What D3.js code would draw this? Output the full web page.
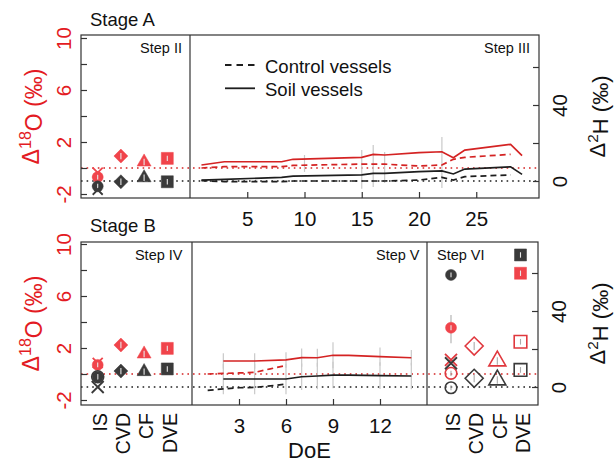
<!DOCTYPE html>
<html><head><meta charset="utf-8">
<script src="https://cdn.jsdelivr.net/npm/d3@7"></script>
<style>body{margin:0;background:#fff}svg{display:block;font-family:"Liberation Sans",Arial,sans-serif}</style>
</head><body><svg id="c" width="614" height="462"></svg>
<script>
// ---------- data ----------
const categories = ["IS","CVD","CF","DVE"];
const shapesByCat = ["circle","diamond","triangle","square"];
const doeTicksA = [5,10,15,20,25];
const doeTicksB = [3,6,9,12];
const o18Ticks = [-2,0,2,4,6,8,10];
const o18Labels = [-2,2,6,10];
const h2Ticks = [0,20,40,60];
const h2Labels = [0,40];

// Stage A, Step III (time series)
const daysSoilA = [1,3,8,9,15,16,17,20,22,23,24,28,29];
const soilO18A  = [0.23,0.48,0.48,0.67,0.82,1.05,1.0,1.18,1.25,0.79,1.38,1.82,0.95];
const soilH2A   = [0.5,0.9,1.9,2.6,3.2,4.0,4.0,4.9,5.3,3.7,6.3,7.5,3.5];
const daysCtrlA = [1,3,8,9,15,16,17,20,22,23,24,28];
const ctrlO18A  = [0.0,0.1,0.1,0.2,0.3,0.3,0.3,0.15,0.23,0.67,0.82,1.05];
const ctrlH2A   = [0.2,-0.3,-0.3,0,0,0,0,0.5,1.9,0.5,2.3,3.2];
const errDaysA  = [10,15,16,17,22];
const errLoA    = [-0.3,-1.6,-1.46,-1.15,-1.54];
const errHiA    = [1.0,1.38,1.77,1.23,2.38];

// Stage B, Step V (time series)
const daysSoilB = [2,4,6,7,8,9,10,12,14];
const soilO18B  = [1.0,1.0,1.08,1.26,1.25,1.44,1.44,1.33,1.25];
const soilH2B   = [4.2,4.2,4.2,5.4,5.8,6.3,6.3,6.0,5.8];
const daysCtrlB = [1,2,3,4,5,6];
const ctrlO18B  = [0.0,0.05,0.08,0.12,0.4,0.65];
const ctrlH2B   = [-1.8,-1.0,-0.4,-0.2,0.6,1.5];
const errDaysB  = [2,4,6,7,8,9,12,14];
const errO18B   = [0.6,0.6,0.6,0.7,0.7,1.0,0.7,0.6];
const errH2B    = [8,8,8,7,7,7,7,7];

// Step II markers (filled shapes + IS cross)
const stepII_O18 = [-0.7,0.92,0.46,0.74];
const stepII_H2  = [-2.8,-0.4,1.7,-0.4];
const stepII_xO18 = [-0.35];
const stepII_xH2  = [-4.6];
// Step IV markers
const stepIV_O18 = [0.7,2.23,1.54,1.97];
const stepIV_H2  = [5.4,8.4,8.1,9.5];
const stepIV_xO18 = [0.85];
const stepIV_xH2  = [0.0];
// Step VI markers
const stepVI_fillO18 = [3.56,null,null,7.75];
const stepVI_fillH2  = [59,null,null,69.5];
const stepVI_openO18 = [0.05,2.15,1.0,2.48];
const stepVI_openH2  = [-0.4,4.6,3.7,9.0];
const stepVI_xO18 = [1.08];
const stepVI_xH2  = [12.5];
const stepVI_errO18 = [[2.36,4.54],null,null,null];

// ---------- styling ----------
const RED_TXT="#e31b23", RED_MK="#f0444b", RED_LN="#d42323", BLK_MK="#3a3a3a", BLK_LN="#1e1e1e", BOX="#333", GRAY="#c9c9c9";
const svg = d3.select("#c");

// scales
const xA = d3.scaleLinear().domain([0,30.48]).range([190,539]);
const xB = d3.scaleLinear().domain([0,15]).range([192,427]);
const oA = d3.scaleLinear().domain([-2,10]).range([194,38]);
const hA = d3.scaleLinear().domain([0,40]).range([181,105]);
const oB = d3.scaleLinear().domain([-2,10]).range([400,244]);
const hB = d3.scaleLinear().domain([0,40]).range([387,311]);
const cL = d3.scalePoint().domain(categories).range([97.7,167.3]);
const cR = d3.scalePoint().domain(categories).range([451,520.5]);

const P = {A:{x0:81,x1:539,y0:35,y1:198,div:[190]}, B:{x0:81,x1:538,y0:242,y1:405,div:[192,427]}};

// reference dotted lines
function refLines(p, oS, hS){
  svg.append("line").attr("x1",p.x0).attr("x2",p.x1).attr("y1",oS(0)).attr("y2",oS(0))
    .attr("stroke",RED_LN).attr("stroke-width",1.6).attr("stroke-dasharray","1.6,4");
  svg.append("line").attr("x1",p.x0).attr("x2",p.x1).attr("y1",hS(0)).attr("y2",hS(0))
    .attr("stroke",BLK_LN).attr("stroke-width",1.6).attr("stroke-dasharray","1.6,4");
}
refLines(P.A,oA,hA); refLines(P.B,oB,hB);

// error bars
errDaysA.forEach((d,i)=>{
  svg.append("line").attr("x1",xA(d)).attr("x2",xA(d)).attr("y1",oA(errLoA[i])).attr("y2",oA(errHiA[i]))
    .attr("stroke",GRAY).attr("stroke-width",1.2);
});
errDaysB.forEach((d,i)=>{
  const si = daysSoilB.indexOf(d);
  svg.append("line").attr("x1",xB(d)).attr("x2",xB(d))
    .attr("y1",oB(soilO18B[si]+errO18B[i])).attr("y2",oB(soilO18B[si]-errO18B[i]))
    .attr("stroke",GRAY).attr("stroke-width",1.2);
  svg.append("line").attr("x1",xB(d)).attr("x2",xB(d))
    .attr("y1",hB(soilH2B[si]+errH2B[i])).attr("y2",hB(soilH2B[si]-errH2B[i]))
    .attr("stroke",GRAY).attr("stroke-width",1.2);
});

// time series lines
function series(days, vals, xs, ys, color, dashed){
  const pts = days.map((d,i)=>[xs(d), ys(vals[i])]);
  svg.append("path").attr("d", d3.line()(pts)).attr("fill","none").attr("stroke",color)
    .attr("stroke-width",1.7).attr("stroke-dasharray", dashed ? "6,4" : null);
}
series(daysCtrlA, ctrlO18A, xA, oA, RED_LN, true);
series(daysCtrlA, ctrlH2A,  xA, hA, BLK_LN, true);
series(daysSoilA, soilO18A, xA, oA, RED_LN, false);
series(daysSoilA, soilH2A,  xA, hA, BLK_LN, false);
series(daysCtrlB, ctrlO18B, xB, oB, RED_LN, true);
series(daysCtrlB, ctrlH2B,  xB, hB, BLK_LN, true);
series(daysSoilB, soilO18B, xB, oB, RED_LN, false);
series(daysSoilB, soilH2B,  xB, hB, BLK_LN, false);

// marker shapes
function shapePath(kind, s){
  if(kind==="circle") return d3.symbol(d3.symbolCircle, Math.PI*s*s)();
  if(kind==="diamond") return `M0,${-s}L${s},0L0,${s}L${-s},0Z`;
  if(kind==="triangle"){ const side=s*2, h=side*Math.sqrt(3)/2; return `M0,${-2*h/3}L${side/2},${h/3}L${-side/2},${h/3}Z`; }
  if(kind==="square") return `M${-s},${-s}h${2*s}v${2*s}h${-2*s}Z`;
  if(kind==="x") return `M${-s},${-s}L${s},${s}M${-s},${s}L${s},${-s}`;
}
const filledSize = {circle:5.5, diamond:7, triangle:7, square:6};
const openSize = {circle:5.8, diamond:9, triangle:8.5, square:6.3};
function marker(x, y, kind, color, open, size, err){
  const g = svg.append("g").attr("transform",`translate(${x},${y})`);
  if(kind==="x"){
    g.append("path").attr("d",shapePath("x",size)).attr("stroke",color).attr("stroke-width",1.8).attr("fill","none");
    return;
  }
  g.append("path").attr("d",shapePath(kind,size))
    .attr("fill", open ? "none" : color).attr("stroke", color).attr("stroke-width", open?1.6:0.5);
  const e = err || size*0.45;
  g.append("line").attr("x1",0).attr("x2",0).attr("y1",-e).attr("y2",e)
    .attr("stroke", open ? "#aaa" : "#e8e8e8").attr("stroke-width",1.1);
}
function filledSet(cs, o18, h2, oS, hS){
  categories.forEach((c,i)=>{
    if(o18[i]!=null) marker(cs(c), oS(o18[i]), shapesByCat[i], RED_MK, false, filledSize[shapesByCat[i]]);
    if(h2[i]!=null)  marker(cs(c), hS(h2[i]),  shapesByCat[i], BLK_MK, false, filledSize[shapesByCat[i]]);
  });
}
// Step II
filledSet(cL, stepII_O18, stepII_H2, oA, hA);
stepII_xO18.forEach(v=>marker(cL("IS"), oA(v), "x", RED_MK, false, 5));
stepII_xH2.forEach(v=>marker(cL("IS"), hA(v), "x", BLK_MK, false, 5));
// Step IV
stepIV_xO18.forEach(v=>marker(cL("IS"), oB(v), "x", RED_MK, false, 5));
stepIV_xH2.forEach(v=>marker(cL("IS"), hB(v), "x", BLK_MK, false, 6));
filledSet(cL, stepIV_O18, stepIV_H2, oB, hB);
marker(cL("IS"), hB(stepIV_H2[0]), "circle", BLK_MK, true, 6);
// Step VI
categories.forEach((c,i)=>{
  const k = shapesByCat[i];
  if(stepVI_openO18[i]!=null) marker(cR(c), oB(stepVI_openO18[i]), k, "#e0383e", true, openSize[k]);
  if(stepVI_openH2[i]!=null)  marker(cR(c), hB(stepVI_openH2[i]),  k, BLK_MK, true, openSize[k]);
});
stepVI_xO18.forEach(v=>marker(cR("IS"), oB(v), "x", "#e0383e", false, 6));
stepVI_xH2.forEach(v=>marker(cR("IS"), hB(v), "x", BLK_MK, false, 6));
categories.forEach((c,i)=>{
  const k = shapesByCat[i];
  if(stepVI_errO18[i]){
    svg.append("line").attr("x1",cR(c)).attr("x2",cR(c)).attr("y1",oB(stepVI_errO18[i][0])).attr("y2",oB(stepVI_errO18[i][1]))
      .attr("stroke","#bbb").attr("stroke-width",1.3);
  }
  if(stepVI_fillO18[i]!=null) marker(cR(c), oB(stepVI_fillO18[i]), k, RED_MK, false, filledSize[k]);
  if(stepVI_fillH2[i]!=null)  marker(cR(c), hB(stepVI_fillH2[i]),  k, BLK_MK, false, filledSize[k]);
});

// panel boxes
[P.A,P.B].forEach(p=>{
  svg.append("rect").attr("x",p.x0).attr("y",p.y0).attr("width",p.x1-p.x0).attr("height",p.y1-p.y0)
    .attr("fill","none").attr("stroke",BOX).attr("stroke-width",1.2);
  p.div.forEach(x=>svg.append("line").attr("x1",x).attr("x2",x).attr("y1",p.y0).attr("y2",p.y1)
    .attr("stroke",BOX).attr("stroke-width",1.2));
});

// axes
function yAxes(p, oS, hS){
  const gl = svg.append("g").attr("transform",`translate(${p.x0},0)`)
    .call(d3.axisLeft(oS).tickValues(o18Ticks).tickSize(-6).tickFormat(d=>o18Labels.includes(d)?String(d):""));
  gl.select(".domain").remove();
  gl.selectAll(".tick line").attr("stroke",BOX).attr("stroke-width",1.2);
  gl.selectAll(".tick text").attr("x",0).attr("dy",0).attr("text-anchor","middle")
    .attr("transform","translate(-10,0) rotate(-90)").attr("fill",RED_TXT)
    .style("font-size","20.5px").style("font-family","'Liberation Sans',Arial,sans-serif");
  const gr = svg.append("g").attr("transform",`translate(${p.x1},0)`)
    .call(d3.axisRight(hS).tickValues(h2Ticks).tickSize(-6).tickFormat(d=>h2Labels.includes(d)?String(d):""));
  gr.select(".domain").remove();
  gr.selectAll(".tick line").attr("stroke",BOX).attr("stroke-width",1.2);
  gr.selectAll(".tick text").attr("x",0).attr("dy",0).attr("text-anchor","middle")
    .attr("transform","translate(28,0) rotate(-90)").attr("fill","#111")
    .style("font-size","20.5px").style("font-family","'Liberation Sans',Arial,sans-serif");
}
yAxes(P.A,oA,hA); yAxes(P.B,oB,hB);

function xAxis(scale, ticks, y){
  const g = svg.append("g").attr("transform",`translate(0,${y})`)
    .call(d3.axisBottom(scale).tickValues(ticks).tickSize(-6).tickFormat(d3.format("d")));
  g.select(".domain").remove();
  g.selectAll(".tick line").attr("stroke",BOX).attr("stroke-width",1.2);
  g.selectAll(".tick text").attr("y",0).attr("dy",0).attr("transform","translate(0,27.5)")
    .attr("fill","#111").style("font-size","20.5px").style("font-family","'Liberation Sans',Arial,sans-serif");
}
xAxis(xA, doeTicksA, P.A.y1);
xAxis(xB, doeTicksB, P.B.y1);

function catAxis(scale){
  const g = svg.append("g").attr("transform",`translate(0,${P.B.y1})`)
    .call(d3.axisBottom(scale).tickSize(0));
  g.select(".domain").remove();
  g.selectAll(".tick text").attr("x",0).attr("y",0).attr("dy","0.35em").attr("text-anchor","end")
    .attr("transform","translate(2,8) rotate(-90)").attr("fill","#111")
    .style("font-size","19.5px").style("font-family","'Liberation Sans',Arial,sans-serif");
}
catAxis(cL); catAxis(cR);

// axis titles
function yTitle(x, y, sup, main, color, size){
  const t = svg.append("text").attr("transform",`translate(${x},${y}) rotate(-90)`)
    .attr("text-anchor","middle").attr("fill",color).style("font-size",size+"px");
  t.append("tspan").text("Δ");
  t.append("tspan").attr("dy","-0.45em").style("font-size",(size*0.7)+"px").text(sup);
  t.append("tspan").attr("dy","0.45em").text(main);
}
yTitle(38.5, 116.5, "18", "O (‰)", RED_TXT, 23);
yTitle(38.5, 323.5, "18", "O (‰)", RED_TXT, 23);
yTitle(605, 116.5, "2", "H (‰)", "#111", 22);
yTitle(605, 323.5, "2", "H (‰)", "#111", 22);

svg.append("text").attr("x",309.5).attr("y",457.5).attr("text-anchor","middle").attr("fill","#111")
  .style("font-size","22px").text("DoE");

// stage / step labels
const txt = (x,y,s,size,anchor)=>svg.append("text").attr("x",x).attr("y",y).attr("text-anchor",anchor||"start")
  .attr("fill","#111").style("font-size",size+"px").text(s);
txt(90,26,"Stage A",18.5);
txt(90,231.5,"Stage B",18.5);
txt(182,53,"Step II",14.5,"end");
txt(530,53,"Step III",14.5,"end");
txt(182.5,260,"Step IV",14.5,"end");
txt(419.5,260,"Step V",14.5,"end");
txt(437,260,"Step VI",14.5,"start");

// legend
const legendLabels = ["Control vessels","Soil vessels"];
legendLabels.forEach((s,i)=>{
  const y = 65 + i*23.3;
  svg.append("line").attr("x1",225).attr("x2",255).attr("y1",y).attr("y2",y).attr("stroke",BLK_LN)
    .attr("stroke-width",1.8).attr("stroke-dasharray", i===0 ? "6.5,5" : null);
  svg.append("text").attr("x",265).attr("y",y+7.5).attr("fill","#111").style("font-size","18.5px").text(s);
});
</script></body></html>
